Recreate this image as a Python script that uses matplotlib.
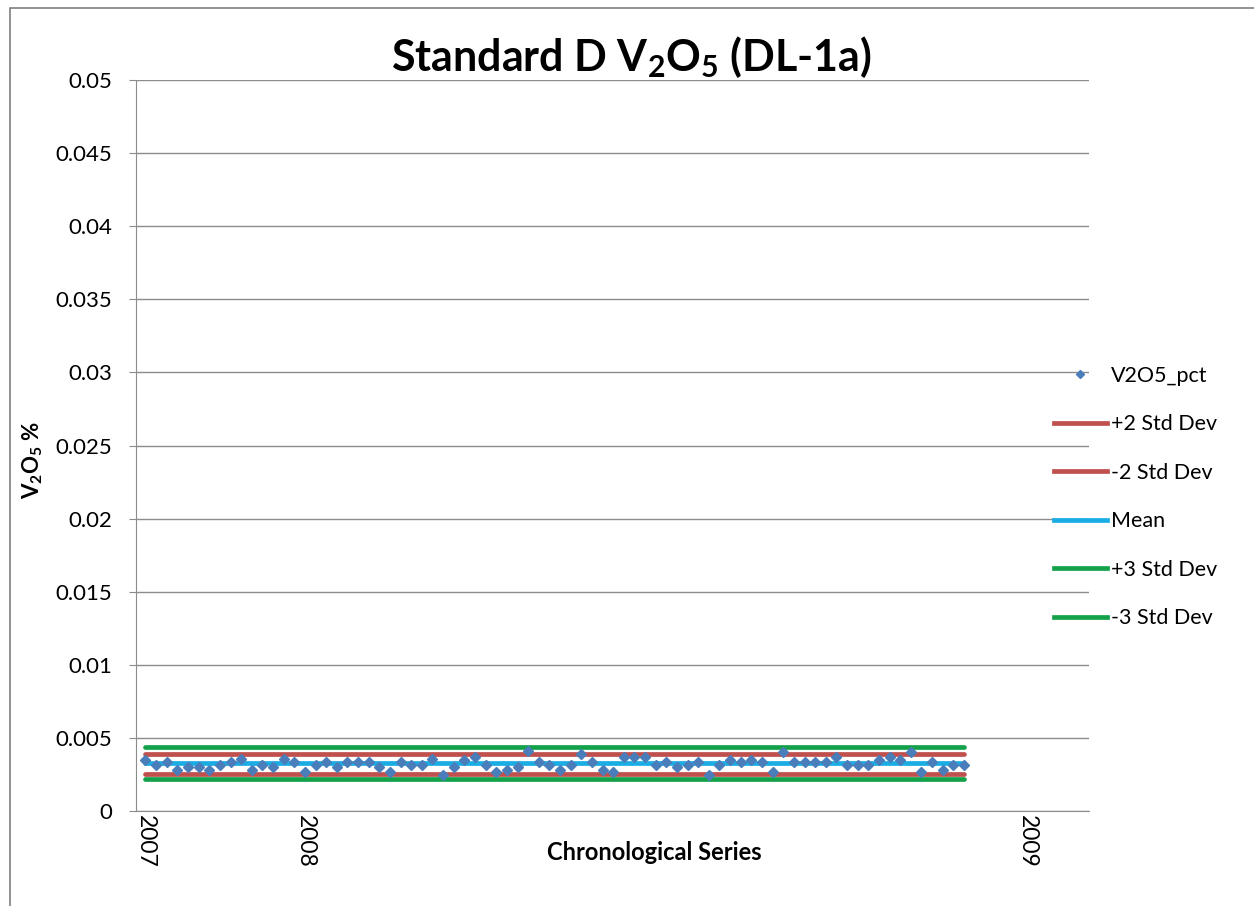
import numpy as np
import matplotlib.pyplot as plt
from matplotlib.patches import Rectangle
from matplotlib.lines import Line2D

plt.rcParams['font.family'] = ['Lato', 'DejaVu Sans']
plt.rcParams['mathtext.fontset'] = 'custom'
plt.rcParams['mathtext.rm'] = 'Lato'
plt.rcParams['mathtext.bf'] = 'Lato:bold'

v2o5_pct = [
    0.00349, 0.00315, 0.00338, 0.00281, 0.00299, 0.00299, 0.00281, 0.00317, 0.00338, 0.00354,
    0.00281, 0.00317, 0.00299, 0.00354, 0.00338, 0.00265, 0.00317, 0.00338, 0.00299, 0.00338,
    0.00338, 0.00338, 0.00299, 0.00265, 0.00338, 0.00315, 0.00317, 0.00354, 0.00249, 0.00299,
    0.00352, 0.00370, 0.00317, 0.00267, 0.00282, 0.00299, 0.00408, 0.00335, 0.00317, 0.00281,
    0.00317, 0.00388, 0.00333, 0.00281, 0.00265, 0.00370, 0.00370, 0.00370, 0.00317, 0.00333,
    0.00299, 0.00317, 0.00333, 0.00247, 0.00317, 0.00349, 0.00333, 0.00349, 0.00333, 0.00265,
    0.00406, 0.00333, 0.00333, 0.00333, 0.00333, 0.00370, 0.00317, 0.00317, 0.00317, 0.00349,
    0.00370, 0.00349, 0.00406, 0.00265, 0.00333, 0.00281, 0.00317, 0.00317,
]

# control limits
mean_val = 0.00328
plus2_sd = 0.00390
minus2_sd = 0.00252
plus3_sd = 0.00436
minus3_sd = 0.00221

# category labels shown on the x axis (index -> label)
year_idx = [0, 15, 83]
year_labels = ['2007', '2008', '2009']

y_ticks = [0, 0.005, 0.01, 0.015, 0.02, 0.025, 0.03, 0.035, 0.04, 0.045, 0.05]
y_tick_labels = ['0', '0.005', '0.01', '0.015', '0.02', '0.025', '0.03', '0.035', '0.04', '0.045', '0.05']

c_red = '#C0504D'
c_green = '#13A24A'
c_blue = '#1AADE4'
c_marker = '#4A7EBB'
c_grid = '#8C8C8C'

fig = plt.figure(figsize=(12.54, 9.06), dpi=100)
# chart area border
fig.patches.append(Rectangle((10 / 1254, -0.01), 1.2, 1 - 8 / 906 + 0.01, transform=fig.transFigure,
                             fill=False, edgecolor='#7F7F7F', linewidth=1.2))

ax = fig.add_axes([136 / 1254, 1 - 811 / 906, (1089 - 136) / 1254, (811 - 80) / 906])

x = np.arange(len(v2o5_pct))
lw = 3.4
ax.plot(x, np.full(len(x), plus3_sd), color=c_green, lw=lw, solid_capstyle='round', zorder=2)
ax.plot(x, np.full(len(x), minus3_sd), color=c_green, lw=lw, solid_capstyle='round', zorder=2)
ax.plot(x, np.full(len(x), plus2_sd), color=c_red, lw=lw, solid_capstyle='round', zorder=2)
ax.plot(x, np.full(len(x), minus2_sd), color=c_red, lw=lw, solid_capstyle='round', zorder=2)
ax.plot(x, np.full(len(x), mean_val), color=c_blue, lw=lw, solid_capstyle='round', zorder=2)
ax.plot(x, v2o5_pct, linestyle='none', marker='D', markersize=5.5, color=c_marker, zorder=3)

ax.set_xlim(-0.89, 88.76)
ax.set_ylim(0, 0.05)
ax.set_yticks(y_ticks)
ax.set_yticklabels(y_tick_labels, fontsize=16)
ax.set_xticks(year_idx)
ax.set_xticklabels(year_labels, rotation=-90, fontsize=16.5, va='top', ha='center')
ax.tick_params(axis='x', length=0, pad=3)
ax.tick_params(axis='y', length=5, color=c_grid, pad=12)
ax.yaxis.grid(True, color=c_grid, linewidth=1)
ax.set_axisbelow(True)
for side in ['top', 'right']:
    ax.spines[side].set_visible(False)
for side in ['left', 'bottom']:
    ax.spines[side].set_color(c_grid)

fig.text(631 / 1254, 1 - 57 / 906, r'Standard D V$_\mathbf{2}$O$_\mathbf{5}$ (DL-1a)', ha='center', va='center',
         fontsize=31, fontweight='bold')
fig.text(654 / 1254, 1 - 853 / 906, 'Chronological Series', ha='center', va='center',
         fontsize=17, fontweight='bold')
fig.text(33 / 1254, 1 - 460 / 906, r'V$_\mathbf{2}$O$_\mathbf{5}$ %', ha='center', va='center',
         rotation=90, fontsize=16, fontweight='bold')

# legend on the right
handles = [
    Line2D([], [], linestyle='none', marker='D', markersize=4, color=c_marker),
    Line2D([], [], color=c_red, lw=lw),
    Line2D([], [], color=c_red, lw=lw),
    Line2D([], [], color=c_blue, lw=lw),
    Line2D([], [], color=c_green, lw=lw),
    Line2D([], [], color=c_green, lw=lw),
]
labels = ['V2O5_pct', '+2 Std Dev', '-2 Std Dev', 'Mean', '+3 Std Dev', '-3 Std Dev']
fig.legend(handles, labels, loc='center left', bbox_to_anchor=(1054 / 1254, 1 - 497 / 906),
           frameon=False, fontsize=15.5, handlelength=2.45, handletextpad=0.2,
           labelspacing=1.32, numpoints=1, borderpad=0, borderaxespad=0)

fig.savefig('out.png', dpi=100)
